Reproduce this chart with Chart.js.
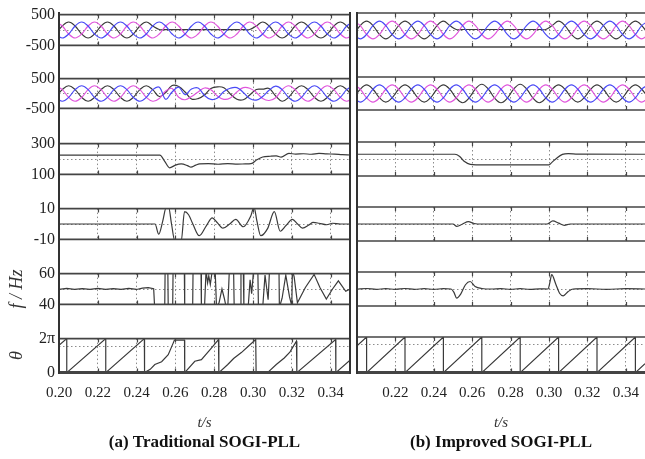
<!DOCTYPE html>
<html lang="en">
<head>
<meta charset="UTF-8">
<title>Traditional vs Improved SOGI-PLL</title>
<script src="https://cdn.jsdelivr.net/npm/chart.js"></script>
<style>
  body {
    margin: 0;
    background: #fff;
    width: 645px;
    height: 459px;
    position: relative;
    overflow: hidden;
  }
  canvas { position: absolute; }
  .vline { position: absolute; background: #333; }
</style>
</head>
<body>

<script>
// ---- data ----
// x tick labels (s)
const xTicks = [0.20, 0.22, 0.24, 0.26, 0.28, 0.30, 0.32, 0.34];

// sample times for the three-phase waveforms (s)
const tW = [0.1983, 0.2017, 0.2050, 0.2083, 0.2117, 0.2150, 0.2183, 0.2217, 0.2250, 0.2283,
            0.2317, 0.2350, 0.2383, 0.2417, 0.2450, 0.2483, 0.2517, 0.2550, 0.2583, 0.2617,
            0.2650, 0.2683, 0.2717, 0.2750, 0.2783, 0.2817, 0.2850, 0.2883, 0.2917, 0.2950,
            0.2983, 0.3017, 0.3050, 0.3083, 0.3117, 0.3150, 0.3183, 0.3217, 0.3250, 0.3283,
            0.3317, 0.3350, 0.3383, 0.3417, 0.3450, 0.3483, 0.3517];

// grid voltage (row 1, same for both columns), V
const gridA = [-130, 130, 260, 130, -130, -260, -130, 130, 260, 130, -130, -260,
               -130, 130, 260, 130, 15, 15, 15, 15, 15, 15, 15, 15,
               15, 15, 15, 15, 15, 15, 15, 130, 260, 130, -130, -260,
               -130, 130, 260, 130, -130, -260, -130, 130, 260, 130, -130];
const gridB = [-130, -260, -130, 130, 260, 130, -130, -260, -130, 130, 260, 130,
               -130, -260, -130, 130, 260, 130, -130, -260, -130, 130, 260, 130,
               -130, -260, -130, 130, 260, 130, -130, -260, -130, 130, 260, 130,
               -130, -260, -130, 130, 260, 130, -130, -260, -130, 130, 260];
const gridC = [260, 130, -130, -260, -130, 130, 260, 130, -130, -260, -130, 130,
               260, 130, -130, -260, -130, 130, 260, 130, -130, -260, -130, 130,
               260, 130, -130, -260, -130, 130, 260, 130, -130, -260, -130, 130,
               260, 130, -130, -260, -130, 130, 260, 130, -130, -260, -130];

// PLL output voltages (row 2), traditional
const tradA = [-130, 130, 260, 130, -130, -260, -130, 130, 260, 130, -130, -260,
               -130, 130, 260, 130, -100, 35, 270, 235, 50, -185, -170, -50,
               170, 225, 195, -15, -195, -210, -50, 135, 145, 170, -85, -260,
               -130, 130, 260, 130, -130, -260, -130, 130, 260, 130, -130];
const tradB = [-130, -260, -130, 130, 260, 130, -130, -260, -130, 130, 260, 130,
               -130, -260, -130, 130, 210, -195, 50, 210, -40, 150, 185, -65,
               -200, -150, 65, 175, 195, 35, -170, -220, -100, 110, 245, 130,
               -130, -260, -130, 130, 260, 130, -130, -260, -130, 130, 260];
const tradC = [260, 130, -130, -260, -130, 130, 260, 130, -130, -260, -130, 130,
               260, 130, -130, -260, -170, 85, 170, -125, -210, -100, 50, 185,
               125, -85, -195, -150, 50, 195, 175, 35, -170, -235, -145, 130,
               260, 130, -130, -260, -130, 130, 260, 130, -130, -260, -130];
// PLL output voltages (row 2), improved (phase A; B and C follow the grid)
const imprA = [-130, 130, 260, 130, -130, -260, -130, 130, 260, 130, -130, -260,
               -130, 130, 260, 130, -140, -280, -140, 140, 280, 140, -140, -280,
               -140, 140, 280, 140, -140, -280, -140, 130, 260, 130, -130, -260,
               -130, 130, 260, 130, -130, -260, -130, 130, 260, 130, -130];

// d-axis voltage (row 3)
const t3a = [0.200, 0.2520, 0.2545, 0.2570, 0.2600, 0.2630, 0.2665, 0.2680, 0.2705, 0.2725,
             0.2770, 0.2820, 0.2870, 0.2920, 0.2960, 0.2990, 0.3020, 0.3050, 0.3090, 0.3120,
             0.3145, 0.3185, 0.3220, 0.3260, 0.3300, 0.3340, 0.3380, 0.3420, 0.3460, 0.3500];
const v3a = [225, 225, 185, 143, 160, 168, 155, 147, 160, 168,
             170, 166, 170, 167, 168, 170, 195, 213, 218, 220,
             212, 236, 232, 234, 231, 236, 233, 232, 228, 226];
const t3b = [0.200, 0.2510, 0.2535, 0.2560, 0.2590, 0.2620, 0.2800, 0.3000, 0.3015, 0.3040,
             0.3070, 0.3100, 0.3150, 0.3500];
const v3b = [228, 228, 215, 185, 168, 166, 166, 166, 180, 205,
             227, 232, 229, 228];

// q-axis voltage (row 4)
const t4a = [0.200, 0.2495, 0.2514, 0.2535, 0.2553, 0.2565, 0.2580, 0.2597, 0.2630, 0.2647,
             0.2668, 0.2690, 0.2723, 0.2760, 0.2790, 0.2815, 0.2845, 0.2880, 0.2911, 0.2950,
             0.2988, 0.3005, 0.3020, 0.3040, 0.3075, 0.3110, 0.3140, 0.3170, 0.3203, 0.3230,
             0.3255, 0.3290, 0.3310, 0.3340, 0.3380, 0.3410, 0.3450, 0.3500];
const v4a = [0, 0, -6.6, 2, 11, 11, 0, -11, -11, 8,
             6, 0, -7.6, -1, 4, 1, -2.7, 0, 3, -1.8,
             5, 11, 2, -7.6, -3, 8, -4.7, -1, 3, 0,
             -2.7, -0.5, 1, 0.5, -0.5, 0.5, 0, 0];
const t4b = [0.200, 0.2500, 0.2520, 0.2550, 0.2580, 0.2610, 0.2650, 0.2990, 0.3020, 0.3050,
             0.3080, 0.3110, 0.3500];
const v4b = [0, 0, -1.4, 0, 1.4, 0.3, 0, 0, 1.8, 0.5,
             -0.8, 0, 0];

// frequency (row 5), Hz
const t5a = [0.2000, 0.2040, 0.2080, 0.2120, 0.2160, 0.2200, 0.2240, 0.2280, 0.2320, 0.2360,
             0.2400, 0.2430, 0.2460, 0.2488, 0.2493, 0.2545, 0.2547, 0.2561, 0.2563, 0.2586,
             0.2588, 0.2646, 0.2648, 0.2689, 0.2691, 0.2732, 0.2734, 0.2750, 0.2758, 0.2766,
             0.2772, 0.2780, 0.2790, 0.2805, 0.2812, 0.2825, 0.2840, 0.2852, 0.2862, 0.2870,
             0.2878, 0.2900, 0.2903, 0.2935, 0.2938, 0.2950, 0.2953, 0.2975, 0.2985, 0.2993,
             0.3003, 0.3025, 0.3028, 0.3050, 0.3062, 0.3078, 0.3085, 0.3134, 0.3136, 0.3150,
             0.3169, 0.3188, 0.3200, 0.3203, 0.3212, 0.3229, 0.3270, 0.3315, 0.3345, 0.3378,
             0.3410, 0.3440, 0.3478, 0.3500];
const v5a = [49.8, 50.4, 49.7, 50.3, 49.8, 50.4, 49.7, 50.3, 49.8, 50.4,
             49.7, 50.6, 50.9, 50.2, 38, 38, 62, 62, 38, 38,
             62, 62, 38, 38, 62, 62, 38, 38, 62, 54,
             58.5, 53, 62, 62, 38, 41, 50, 44, 38, 38,
             62, 62, 38, 38, 62, 62, 38, 38, 56, 47,
             62, 62, 38, 38, 59, 43, 62, 62, 38, 44,
             59, 45, 39, 62, 58, 41, 51, 59.5, 51, 43.5,
             50, 55.3, 48.5, 50];
const t5b = [0.200, 0.205, 0.210, 0.215, 0.220, 0.225, 0.230, 0.235, 0.240, 0.245,
             0.2490, 0.2505, 0.2519, 0.2540, 0.2565, 0.2589, 0.2615, 0.2650, 0.2700, 0.2750,
             0.2800, 0.2850, 0.2900, 0.2950, 0.2995, 0.3005, 0.3014, 0.3035, 0.3055, 0.3074,
             0.3100, 0.3126, 0.3200, 0.3300, 0.3400, 0.3500];
const v5b = [50, 50.3, 49.8, 50.2, 49.8, 50.3, 49.8, 50.2, 49.8, 50.2,
             50, 48, 44.6, 47, 52.5, 54.4, 51.5, 50.3, 50, 50.2,
             49.8, 50.2, 49.8, 50.1, 50, 54, 58.4, 53, 47.5, 46,
             48.5, 50, 50.2, 49.8, 50.2, 50];

// phase angle (row 6), rad
const t6a = [0.2000, 0.2040, 0.2040, 0.2241, 0.2241, 0.2440, 0.2441, 0.2470, 0.2494, 0.2529,
             0.2563, 0.2588, 0.2595, 0.2647, 0.2648, 0.2700, 0.2734, 0.2780, 0.2822, 0.2824,
             0.2870, 0.2900, 0.2940, 0.2980, 0.3014, 0.3016, 0.3075, 0.3120, 0.3161, 0.3190,
             0.3224, 0.3226, 0.3426, 0.3427, 0.3500];
const v6a = [5.03, 6.28, 0, 6.28, 0, 6.28, 0, 0.6, 1.5, 2.0,
             3.3, 5.4, 6.0, 6.0, 0, 2.1, 2.4, 4.3, 6.1, 0,
             1.5, 2.6, 3.7, 5.0, 6.1, 0, 0, 1.5, 2.7, 3.8,
             5.8, 0, 6.1, 0, 2.3];
const t6b = [0.2000, 0.2050, 0.2050, 0.2250, 0.2250, 0.2450, 0.2450, 0.2650, 0.2650, 0.2850,
             0.2850, 0.3050, 0.3050, 0.3250, 0.3250, 0.3450, 0.3450, 0.3500];
const v6b = [4.71, 6.28, 0, 6.28, 0, 6.28, 0, 6.28, 0, 6.28,
             0, 6.28, 0, 6.28, 0, 6.28, 0, 1.57];

// ---- layout / style ----
const FONT = '"Liberation Serif", "DejaVu Serif", serif';
const BLACK = '#3a3a3a', BLUE = '#4a4af6', PINK = '#e055dc';
const rowTop = [13, 77, 142, 207, 272, 337];
const rowH = [34, 33, 34, 34, 34, 35];
const cols = [
  {x: 0, w: 350, axisW: 59, caption: '(a) Traditional SOGI-PLL'},
  {x: 357, w: 288, axisW: 0, caption: '(b) Improved SOGI-PLL'}
];
const rows = [
  {min: -500, max: 500, mid: 0, top: '500', bottom: '-500'},
  {min: -500, max: 500, mid: 0, top: '500', bottom: '-500'},
  {min: 100, max: 300, mid: 200, top: '300', bottom: '100'},
  {min: -10, max: 10, mid: 0, top: '10', bottom: '-10'},
  {min: 40, max: 60, mid: 50, top: '60', bottom: '40', title: 'f / Hz'},
  {min: 0, max: 6.2832, mid: 4.9, top: '2π', bottom: '0', title: 'θ'}
];
// series per [row][col]: [times, values, colour, smooth]
const series = [
  [[[tW, gridB, BLUE, 'w'], [tW, gridC, PINK, 'w'], [tW, gridA, BLACK, 'w']],
   [[tW, gridB, BLUE, 'w'], [tW, gridC, PINK, 'w'], [tW, gridA, BLACK, 'w']]],
  [[[tW, tradB, BLUE, 'w'], [tW, tradC, PINK, 'w'], [tW, tradA, BLACK, 'w']],
   [[tW, gridB, BLUE, 'w'], [tW, gridC, PINK, 'w'], [tW, imprA, BLACK, 'w']]],
  [[[t3a, v3a, BLACK, 'm']], [[t3b, v3b, BLACK, 'm']]],
  [[[t4a, v4a, BLACK, 'm']], [[t4b, v4b, BLACK, 'm']]],
  [[[t5a, v5a, BLACK, 'l']], [[t5b, v5b, BLACK, 'm']]],
  [[[t6a, v6a, BLACK, 'l']], [[t6b, v6b, BLACK, 'l']]]
];

const framePlugin = {
  id: 'frame',
  afterDraw(chart, args, opts) {
    const {ctx, chartArea: a} = chart;
    const x = chart.scales.x;
    ctx.save();
    ctx.strokeStyle = '#444';
    ctx.lineWidth = 1.7;
    ctx.beginPath();
    ctx.moveTo(a.left, a.top); ctx.lineTo(a.right, a.top);
    ctx.stroke();
    ctx.lineWidth = opts.bottomWidth;
    ctx.beginPath();
    ctx.moveTo(a.left, a.bottom); ctx.lineTo(a.right, a.bottom);
    ctx.stroke();
    // short inward tick marks
    ctx.lineWidth = 1.2;
    ctx.beginPath();
    x.ticks.forEach(tk => {
      if (tk.value <= 0.2) return;
      const px = Math.round(x.getPixelForValue(tk.value)) + 0.5;
      ctx.moveTo(px, a.top); ctx.lineTo(px, a.top + 4);
      ctx.moveTo(px, a.bottom); ctx.lineTo(px, a.bottom - 4);
    });
    ctx.stroke();
    ctx.restore();
  }
};

Chart.defaults.font.family = FONT;
Chart.defaults.color = '#222';

const pts = (t, v) => t.map((x, i) => ({x: x, y: v[i]}));

rows.forEach((row, r) => {
  const last = r === rows.length - 1;
  cols.forEach((col, c) => {
    const cv = document.createElement('canvas');
    const top = rowTop[r] - 12;
    const h = last ? 459 - top : rowH[r] + 24;
    cv.width = col.w; cv.height = h;
    cv.style.left = col.x + 'px';
    cv.style.top = top + 'px';
    document.body.appendChild(cv);

    const datasets = series[r][c].map(s => ({
      data: pts(s[0], s[1]),
      borderColor: s[2],
      borderWidth: 1.2,
      pointRadius: 0,
      tension: s[3] === 'l' ? 0 : 0.4,
      cubicInterpolationMode: s[3] === 'm' ? 'monotone' : 'default'
    }));

    new Chart(cv, {
      type: 'line',
      data: {datasets: datasets},
      options: {
        responsive: false,
        animation: false,
        events: [],
        layout: {padding: {top: 12, left: 0, right: 0, bottom: 0}},
        plugins: {
          legend: {display: false},
          tooltip: {enabled: false},
          title: {
            display: last,
            text: col.caption,
            position: 'bottom',
            fullSize: false,
            color: '#111',
            font: {family: FONT, size: 17, weight: 'bold', lineHeight: 1.2},
            padding: {top: 1, bottom: 6}
          },
          frame: {bottomWidth: last ? 3 : 1.7}
        },
        scales: {
          x: {
            type: 'linear',
            min: 0.2,
            max: 0.35,
            afterBuildTicks: s => { s.ticks = xTicks.map(v => ({value: v})); },
            afterFit: s => { s.height = last ? 59 : 12; },
            grid: {
              color: ctx => ctx.tick && ctx.tick.value > 0.2 ? '#8c8c8c' : 'rgba(0,0,0,0)',
              lineWidth: 1,
              drawTicks: last,
              tickLength: 11,
              tickColor: 'rgba(0,0,0,0)',
              borderDash: [1.5, 2.5]
            },
            border: {display: false, dash: [1.5, 2.5]},
            ticks: {
              display: last,
              padding: 0,
              autoSkip: false,
              maxRotation: 0,
              color: '#222',
              font: {family: FONT, size: 15},
              callback: v => (c === 1 && v === 0.2) ? '' : v.toFixed(2)
            },
            title: {
              display: last,
              text: 't/s',
              color: '#333',
              font: {family: FONT, size: 15, style: 'italic', lineHeight: 1.2},
              padding: {top: 0, bottom: 0}
            }
          },
          y: {
            min: row.min,
            max: row.max,
            afterBuildTicks: s => {
              s.ticks = [{value: row.min}, {value: row.mid}, {value: row.max}];
            },
            afterFit: s => { s.width = col.axisW; },
            grid: {
              color: ctx => ctx.tick && ctx.tick.value === row.mid ? '#8c8c8c' : 'rgba(0,0,0,0)',
              lineWidth: 1,
              drawTicks: false,
              borderDash: [1.5, 2.5]
            },
            border: {display: false, dash: [1.5, 2.5]},
            ticks: {
              display: c === 0,
              padding: 4,
              autoSkip: false,
              color: '#222',
              font: {family: FONT, size: 16},
              callback: v => v === row.max ? row.top : (v === row.min ? row.bottom : '')
            },
            title: {
              display: c === 0 && !!row.title,
              text: row.title || '',
              color: '#333',
              font: {family: FONT, size: 18, style: 'italic', lineHeight: 1.2},
              padding: {top: 6, bottom: 0}
            }
          }
        }
      },
      plugins: [framePlugin]
    });
  });
});

// continuous vertical frame lines of the two panels
[[58, 2.4], [349, 2], [356, 2]].forEach(([x, w]) => {
  const d = document.createElement('div');
  d.className = 'vline';
  d.style.left = x + 'px';
  d.style.width = w + 'px';
  d.style.top = '12px';
  d.style.height = '362px';
  document.body.appendChild(d);
});
</script>

</body>
</html>
